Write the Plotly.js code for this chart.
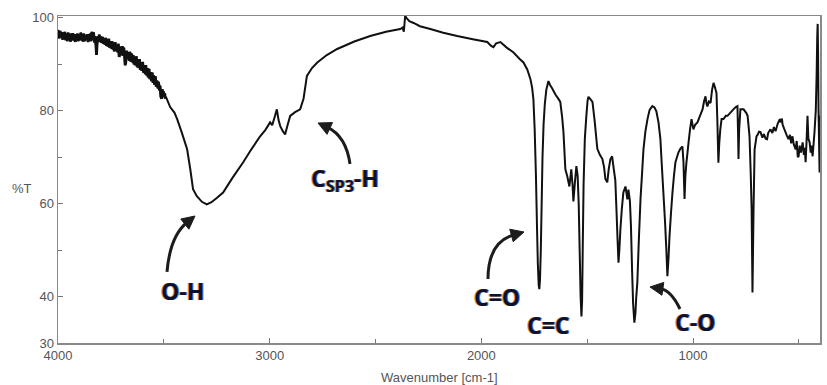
<!DOCTYPE html>
<html>
<head>
<meta charset="utf-8">
<script src="https://cdn.plot.ly/plotly-3.0.1.min.js"></script>
<style>html,body{margin:0;padding:0;background:#fff;}#chart{width:827px;height:385px;}</style>
</head>
<body>
<div id="chart"></div>
<script>
// ---- Spectrum data (wavenumber in cm-1, transmittance in %T) ----
const wnNoisy = [4000,3995,3990,3986,3982,3978,3975,3971,3968,3964,3960,3956,3952,3948,3945,3941,3938,3934,3930,3926,3922,3918,3915,3911,3908,3904,3900,3896,3892,3888,3885,3881,3878,3874,3870,3866,3862,3858,3855,3851,3848,3844,3840,3836,3832,3828,3825,3821,3818,3815,3812,3808,3805,3801,3798,3794,3790,3786,3782,3778,3775,3771,3768,3764,3760,3756,3752,3748,3745,3741,3738,3734,3730,3726,3722,3718,3715,3711,3708,3704,3700,3696,3693,3689,3686,3683,3680,3677,3675,3671,3668,3664,3660,3656,3652,3648,3645,3641,3638,3634,3630,3626,3622,3618,3615,3611,3608,3604,3600,3596,3592,3588,3585,3581,3578,3574,3570,3566,3562,3558,3555,3551,3548,3544,3540,3536,3532,3528,3525,3521,3518,3514,3510,3507,3505,3502,3500,3496,3493];
const tNoisy = [97.4,95.6,97.2,95.8,96.9,95.3,96.8,95.6,97.0,95.2,96.6,95.0,96.8,95.4,96.5,94.9,96.6,95.3,96.7,95.1,96.4,94.8,96.5,95.2,96.6,95.0,96.4,95.3,96.8,95.1,96.3,94.9,96.6,95.0,96.2,95.3,96.5,94.8,96.3,95.2,96.6,95.0,97.0,95.4,96.9,94.7,96.0,94.2,92.0,94.6,96.0,95.2,96.4,94.8,96.0,94.6,95.9,94.4,95.6,94.2,95.7,94.0,95.3,93.8,95.5,93.6,95.0,93.4,95.0,93.2,94.6,92.8,94.8,92.9,94.2,92.6,94.4,91.6,92.2,93.8,92.0,93.9,91.8,93.6,92.2,89.8,90.3,92.6,92.9,91.2,92.6,90.8,92.7,90.6,92.3,90.4,92.0,90.0,91.6,89.8,91.7,89.4,91.0,89.2,91.1,88.8,90.4,88.6,90.5,88.2,89.8,87.9,89.8,87.6,89.2,87.2,89.0,86.8,88.3,86.4,88.2,86.0,87.6,85.6,87.4,85.2,86.5,84.8,86.2,84.4,85.4,83.0,82.6,84.6,83.8,84.2,83.0,83.8,82.6];

const wnOH = [3490,3470,3450,3437,3415,3390,3375,3362,3344,3320,3297,3275,3250,3220,3175,3125,3085,3045,3020,2998,2988,2978,2966,2958,2950,2938,2927,2915,2903,2880,2856,2840,2824];
const tOH = [83.0,80.8,79.6,78.2,75.3,71.7,67.4,63.1,61.6,60.4,59.85,60.3,61.2,62.4,65.6,68.9,71.8,74.5,75.9,77.5,76.9,78.4,80.3,78.0,76.7,75.6,74.9,77.0,78.9,79.7,80.3,82.6,87.5];

const wnHump = [2800,2775,2730,2681,2600,2525,2450,2383,2372,2366,2360,2352,2340,2320,2290,2241,2180,2114,2040,1972,1955,1943,1930,1910,1880,1849,1820,1801,1783,1768,1760];
const tHump = [89.2,90.4,92.0,93.3,94.9,96.1,97.0,97.6,97.9,97.0,100.4,99.9,99.3,98.9,98.2,97.6,96.8,96.1,95.4,94.8,94.0,93.7,94.5,94.8,93.6,92.6,91.2,90.4,88.9,86.8,85.0];

const wnFinger = [1754,1748,1742,1737,1733,1729,1726,1723,1719,1715,1711,1706,1700,1693,1683,1676,1665,1650,1635,1627,1618,1612,1603,1594,1584,1575,1569,1565,1558,1551,1545,1540,1535,1531,1527,1524,1521,1517,1511,1504,1498,1494,1485,1475,1465,1452,1440,1428,1420,1414,1405,1398,1390,1382,1376,1367,1361,1357,1352,1348,1343,1336,1329,1319,1310,1305,1298,1293,1288,1283,1277,1272,1268,1263,1256,1248,1240,1234,1225,1215,1205,1192,1182,1173,1163,1154,1147,1140,1132,1126,1121,1116,1111,1104,1097,1090,1083,1069,1060,1050,1045,1040,1036,1031,1026,1021,1014,1007];
const tFinger = [82.5,76,66,55,47,42.5,41.6,43.5,50,60,70,77,81.5,84.5,86.4,85.6,84.8,83.5,82.5,81.9,78.5,75.4,67.4,65.9,63.7,67.4,64.0,60.5,64.5,68.1,66.0,60.0,49.0,40.0,35.7,39.0,50.0,64.0,74.0,78.8,82.2,83.0,82.5,81.9,78.0,71.8,70.5,69.6,67.8,65.3,64.6,67.5,69.6,70.2,68.0,65.0,58.0,53.0,47.3,50.0,54.5,59.0,62.4,63.7,60.9,63.0,60.5,55.0,46.0,38.5,34.4,36.5,40.0,43.0,52.0,61.0,67.0,71.7,75.5,78.2,80.2,81.0,80.7,79.9,77.5,73.9,68.0,62.4,56.0,50.2,44.4,48.0,53.0,58.0,62.4,66.0,68.9,71.0,71.8,72.3,69.0,61.0,66.0,68.9,71.0,73.2,76.0,78.2];

const wnTail = [998,990,979,968,955,948,941,936,932,925,917,910,903,896,889,885,880,876,871,865,856,845,837,823,809,798,790,787,785,782,776,761,748,742,733,727,723,719,714,709,700,695,688,681,672,665,657,650,645,634,625,618,610,600,590,586,580,577,570,563,556,549,542,536,530,524,515,510,505,501,496,490,482,476,472,468,463,459,455,449,444,440,435,430,426,420,416,413,411,409,407,404,402,400];
const tTail = [76.0,77.0,77.5,78.8,80.3,82.0,83.1,81.5,80.9,82.0,81.7,84.5,86.0,85.0,83.8,78.0,68.8,73.0,76.0,78.2,78.2,78.9,78.9,79.6,80.3,80.8,81.0,75.0,69.6,76.0,80.3,80.3,79.5,78.9,74.5,66.0,58.8,40.9,58.8,71.7,74.5,74.8,75.5,75.4,74.2,75.0,74.0,73.9,75.2,76.0,75.2,76.5,75.6,77.2,78.2,77.5,78.3,77.1,76.2,75.4,74.6,73.9,74.8,73.0,74.5,72.8,71.7,73.5,70.0,70.2,72.5,71.0,73.2,70.5,72.0,68.9,74.0,78.9,74.0,73.2,71.0,72.5,70.2,73.0,75.4,80.0,87.5,96.0,98.7,92.0,80.3,72.0,66.7,79.0];

const xTickVals = [4000,3000,2000,1000,400];
const xTickText = ['4000','3000','2000','1000','400'];
const xMinorVals = [3500,2500,1500,500];
const yTickVals = [30,40,60,80,100];
const yTickText = ['30','40','60','80','100'];
const yMinorVals = [50,70,90];
const bandLabels = ['O-H','C<sub>SP3</sub>-H','C=O','C=C','C-O'];

const wavenumber = [].concat(wnNoisy, wnOH, wnHump, wnFinger, wnTail);
const transmittance = [].concat(tNoisy, tOH, tHump, tFinger, tTail);

// ---- layout geometry (pixels) ----
const W = 827, H = 385, ML = 58, MR = 7, MT = 16, MB = 42;
const PW = W - ML - MR, PH = H - MT - MB;
const px = x => (x - ML) / PW;
const py = y => (H - MB - y) / PH;
const P = (p) => px(p[0]).toFixed(5) + ',' + py(p[1]).toFixed(5);

const labelFont = {family: 'Open Sans, Noto Sans, sans-serif', size: 23, weight: 700, color: '#0b1230',
  shadow: '-1px 0px 0px rgba(225,140,40,0.9), 1px 0px 0px rgba(40,90,190,0.8)'};

// label centers in pixels
const labelPos = [[182, 291], [345, 180], [497, 297], [548, 325], [695, 322]];
// curved arrows: tail, control, tip (pixels)
const arrows = [
  [[167, 272], [170, 236], [195, 216]],
  [[350, 164], [346, 136], [318, 123]],
  [[488, 279], [488, 242], [524, 232]],
  [[680, 309], [671, 290], [650, 287]]
];

const shapes = [];
arrows.forEach(a => {
  const [t, c, h] = a;
  const dx = h[0] - c[0], dy = h[1] - c[1];
  const L = Math.hypot(dx, dy), ux = dx / L, uy = dy / L;
  const hl = 13, hw = 6.5;
  const base = [h[0] - ux * hl, h[1] - uy * hl];
  const back = [h[0] - ux * (hl - 3), h[1] - uy * (hl - 3)];
  const left = [base[0] - uy * hw, base[1] + ux * hw];
  const right = [base[0] + uy * hw, base[1] - ux * hw];
  shapes.push({type: 'path', xref: 'paper', yref: 'paper',
    path: 'M' + P(t) + ' Q' + P(c) + ' ' + P(back),
    line: {color: '#1c1c1c', width: 3}});
  shapes.push({type: 'path', xref: 'paper', yref: 'paper',
    path: 'M' + P(h) + ' L' + P(left) + ' L' + P(right) + ' Z',
    fillcolor: '#1c1c1c', line: {color: '#1c1c1c', width: 1}});
});

const annotations = bandLabels.map((txt, i) => ({
  text: txt, xref: 'paper', yref: 'paper', x: px(labelPos[i][0]), y: py(labelPos[i][1]),
  xanchor: 'center', yanchor: 'middle', showarrow: false, font: labelFont
}));
const smallFont = {family: 'Liberation Sans Narrow, Arial Narrow, sans-serif', size: 13, color: '#555'};
annotations.push({text: '%T', xref: 'paper', yref: 'paper', x: px(22), y: py(188),
  xanchor: 'center', yanchor: 'middle', showarrow: false, font: smallFont});
annotations.push({text: 'Wavenumber [cm-1]', xref: 'paper', yref: 'paper', x: px(439), y: py(377),
  xanchor: 'center', yanchor: 'middle', showarrow: false, font: smallFont});

const axisCommon = {
  showline: true, linecolor: '#8a8a8a', linewidth: 1.5, mirror: true,
  showgrid: false, zeroline: false, ticks: 'inside', ticklen: 5, tickwidth: 1, tickcolor: '#777',
  tickfont: smallFont, tickmode: 'array'
};

const trace = {
  x: wavenumber, y: transmittance, type: 'scatter', mode: 'lines',
  line: {color: '#111', width: 2, simplify: false}, hoverinfo: 'skip'
};
// the noisy high-wavenumber part is drawn a bit heavier, as in the scan
const noisyTrace = {
  x: wnNoisy, y: tNoisy, type: 'scatter', mode: 'lines',
  line: {color: '#111', width: 2.8, simplify: false}, hoverinfo: 'skip'
};

const layout = {
  width: W, height: H,
  margin: {l: ML, r: MR, t: MT, b: MB},
  paper_bgcolor: '#fff', plot_bgcolor: '#fff',
  showlegend: false,
  xaxis: Object.assign({}, axisCommon, {
    range: [4000, 400], tickvals: xTickVals, ticktext: xTickText,
    minor: {tickmode: 'array', tickvals: xMinorVals, ticks: 'inside', ticklen: 4, tickcolor: '#777'}
  }),
  yaxis: Object.assign({}, axisCommon, {
    range: [30, 100.4], tickvals: yTickVals, ticktext: yTickText,
    minor: {tickmode: 'array', tickvals: yMinorVals, ticks: 'inside', ticklen: 4, tickcolor: '#777'}
  }),
  shapes: shapes,
  annotations: annotations
};

Plotly.newPlot('chart', [trace, noisyTrace], layout, {displayModeBar: false, staticPlot: true});
</script>
</body>
</html>
